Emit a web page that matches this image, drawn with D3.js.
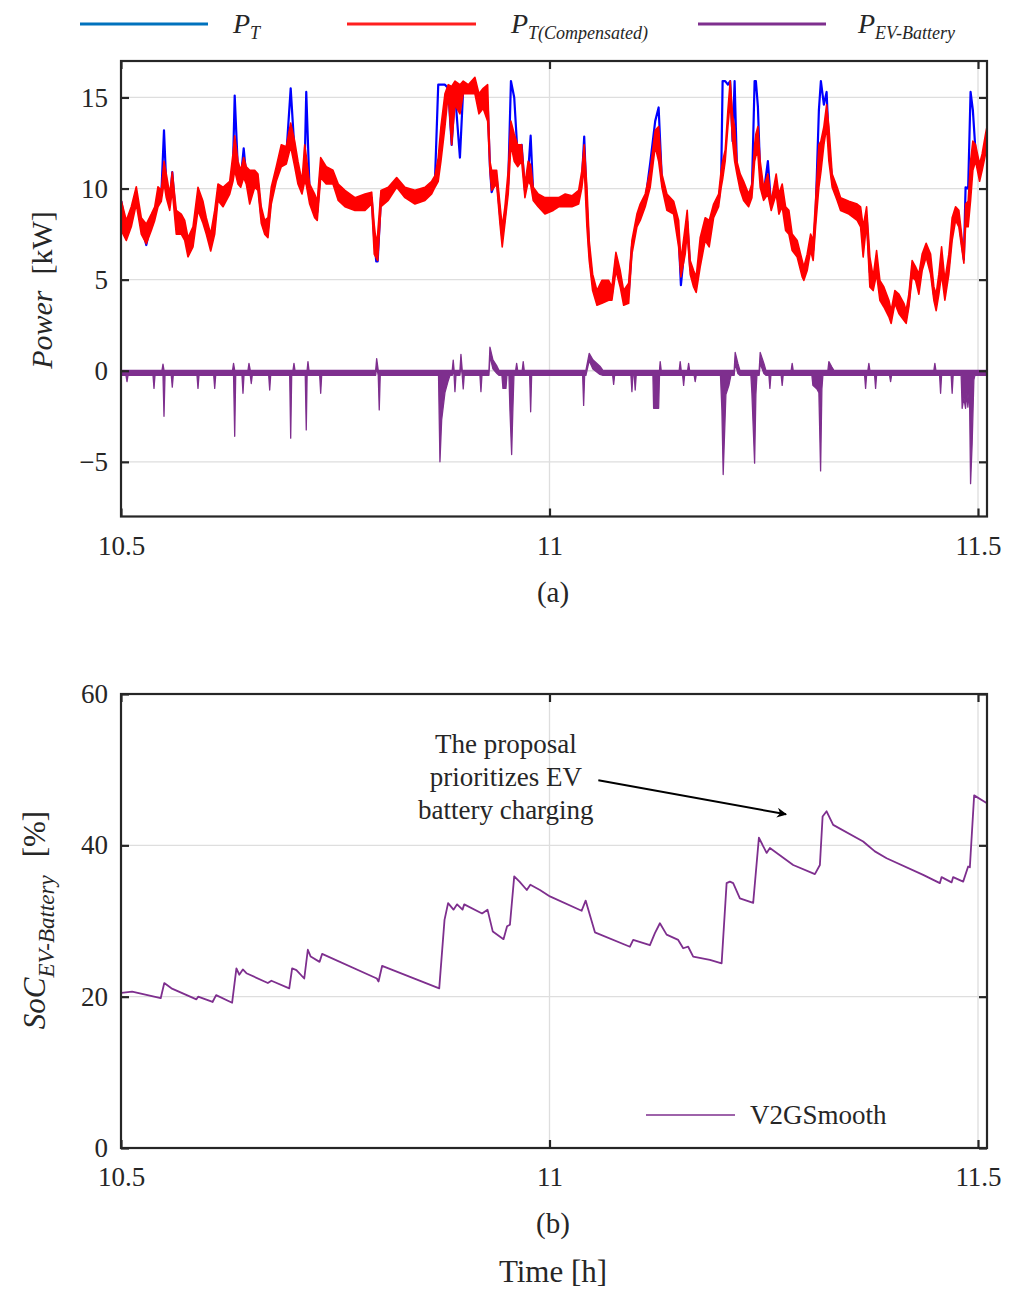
<!DOCTYPE html>
<html>
<head>
<meta charset="utf-8">
<script src="https://cdn.jsdelivr.net/npm/d3@7"></script>
<style>
  body { margin: 0; background: #fff; }
  text { font-family: "Liberation Serif", "Times New Roman", serif; fill: #262626; }
</style>
</head>
<body>
<svg id="fig" width="1016" height="1289"></svg>
<script>
// ---- axis ticks ----
const hourTicks = [10.5, 11, 11.5];
const powerTicks = [-5, 0, 5, 10, 15];
const socTicks = [0, 20, 40, 60];

// time is stored as minutes after 10:30 (10.5 h)
const startHour = 10.5;
const endMinute = 60.63;

// ---- (a) transformer power, kW ----
// sample instants (min) shared by the three arrays below
const sampleMinutes = [
  0.02, 0.37, 0.72, 1.07, 1.42, 1.77, 2.12, 2.36,
  2.59, 2.82, 3.01, 3.17, 3.41, 3.59, 3.87, 4.22,
  4.46, 4.69, 5.04, 5.39, 5.74, 5.97, 6.28, 6.56,
  6.79, 7.14, 7.61, 7.84, 7.96, 8.19, 8.38, 8.59,
  8.77, 9.01, 9.36, 9.59, 9.82, 10.06, 10.29, 10.52,
  10.87, 11.22, 11.57, 11.88, 12.16, 12.39, 12.67, 12.86,
  12.97, 13.21, 13.56, 13.74, 13.98, 14.37, 14.84, 15.21,
  15.68, 16.38, 17.08, 17.55, 17.73, 17.87, 17.97, 18.2,
  18.71, 19.3, 19.88, 20.58, 21.28, 21.75, 21.98, 22.21,
  22.4, 22.68, 22.91, 23.15, 23.38, 23.73, 23.96, 24.31,
  24.78, 25.06, 25.36, 25.67, 25.83, 25.95, 26.3, 26.53,
  26.69, 26.88, 27.11, 27.3, 27.53, 27.77, 28.05, 28.28,
  28.51, 28.68, 28.86, 29.21, 29.68, 30.26, 30.64, 31.1,
  31.57, 32.04, 32.27, 32.43, 32.62, 32.78, 33.02, 33.32,
  33.67, 34.14, 34.37, 34.65, 34.95, 35.19, 35.54, 35.77,
  36.12, 36.35, 36.7, 37.05, 37.4, 37.64, 37.87, 38.22,
  38.69, 39.04, 39.2, 39.5, 39.64, 39.85, 40.09, 40.27,
  40.55, 40.9, 41.18, 41.49, 41.84, 42.02, 42.12, 42.3,
  42.49, 42.65, 42.82, 42.96, 43.12, 43.35, 43.59, 43.94,
  44.17, 44.36, 44.45, 44.59, 44.75, 44.99, 45.29, 45.52,
  45.87, 46.06, 46.29, 46.53, 46.76, 46.99, 47.34, 47.69,
  47.81, 48.04, 48.28, 48.46, 48.63, 48.86, 49.0, 49.21,
  49.4, 49.56, 49.79, 50.14, 50.38, 50.96, 51.54, 51.78,
  51.96, 52.2, 52.43, 52.66, 52.9, 53.13, 53.41, 53.76,
  53.92, 54.18, 54.46, 54.81, 54.97, 55.16, 55.39, 55.63,
  55.86, 56.09, 56.37, 56.68, 56.91, 57.07, 57.26, 57.45,
  57.68, 57.96, 58.19, 58.43, 58.66, 58.85, 59.01, 59.13,
  59.31, 59.48, 59.64, 59.83, 60.11, 60.29, 60.53, 60.62
];

// compensated power: upper and lower edge of the fast ripple
const pCompHigh = [
  9.34, 8.25, 9.0, 10.1, 8.4, 8.05, 8.6, 9.0,
  10.1, 9.9, 11.5, 10.8, 9.7, 10.9, 8.8, 8.6,
  8.25, 7.3, 7.9, 10.07, 9.3, 8.4, 7.5, 8.8,
  10.25, 10.07, 10.4, 11.9, 12.9, 11.5, 11.0, 11.7,
  11.2, 11.0, 11.0, 10.8, 9.0, 8.25, 8.4, 10.07,
  11.2, 12.4, 12.3, 13.6, 12.6, 11.5, 10.4, 12.4,
  11.8, 10.25, 9.7, 9.3, 11.7, 11.2, 11.0, 10.25,
  9.9, 9.5, 9.7, 9.8, 8.0, 7.0, 7.5, 9.9,
  10.07, 10.6, 10.07, 9.9, 10.07, 10.4, 10.7, 11.7,
  13.4, 15.2, 15.7, 15.6, 15.9, 15.7, 15.9, 15.7,
  16.1, 15.2, 15.5, 15.7, 11.5, 11.0, 11.0, 9.15,
  7.9, 9.0, 11.0, 13.7, 13.0, 12.4, 12.4, 10.25,
  11.5, 11.3, 10.07, 9.7, 9.5, 9.5, 9.5, 9.7,
  9.6, 9.9, 11.0, 12.4, 10.07, 7.15, 5.3, 4.4,
  4.96, 4.96, 4.6, 6.5, 5.5, 4.4, 4.8, 7.15,
  8.6, 9.15, 9.7, 11.0, 13.2, 13.4, 10.8, 9.7,
  9.3, 8.25, 6.05, 7.9, 8.8, 6.05, 5.5, 5.15,
  7.3, 8.4, 8.25, 9.15, 9.7, 11.0, 11.5, 12.1,
  14.3, 15.9, 14.0, 13.4, 11.5, 10.8, 10.4, 9.7,
  10.25, 12.4, 13.0, 13.4, 11.5, 10.07, 10.8, 9.3,
  10.8, 9.7, 10.25, 9.0, 8.8, 7.5, 7.15, 6.05,
  5.7, 6.4, 7.5, 7.15, 9.35, 12.4, 12.6, 13.4,
  14.6, 13.4, 10.8, 10.07, 9.5, 9.3, 9.15, 9.0,
  7.9, 9.0, 6.24, 5.15, 6.6, 4.96, 4.6, 3.87,
  3.3, 4.4, 4.2, 3.7, 3.3, 4.2, 6.05, 5.7,
  5.3, 6.4, 7.0, 6.4, 4.6, 4.2, 5.3, 6.8,
  4.96, 6.4, 8.4, 9.0, 8.8, 7.5, 6.4, 9.15,
  9.3, 11.5, 12.6, 12.4, 11.35, 11.9, 13.0, 13.35
];
const pCompLow = [
  7.7, 7.15, 7.9, 9.15, 7.5, 6.97, 7.7, 8.25,
  9.0, 9.3, 10.3, 9.5, 8.8, 9.9, 7.5, 7.5,
  7.15, 6.25, 6.8, 8.8, 8.1, 7.5, 6.57, 7.5,
  9.35, 9.0, 9.7, 10.4, 11.0, 10.25, 10.07, 10.6,
  10.25, 9.15, 10.07, 9.9, 8.1, 7.5, 7.3, 9.15,
  10.4, 11.2, 11.35, 12.3, 11.2, 10.25, 9.7, 10.4,
  10.2, 9.15, 8.4, 8.25, 10.6, 10.25, 10.25, 9.35,
  9.0, 8.8, 8.8, 9.15, 6.4, 6.2, 6.05, 9.0,
  9.35, 10.07, 9.5, 9.15, 9.35, 9.7, 10.07, 10.4,
  11.5, 13.4, 15.2, 12.4, 14.6, 14.1, 15.2, 15.2,
  15.2, 14.1, 14.4, 13.7, 11.0, 9.9, 10.25, 8.1,
  6.8, 8.1, 9.7, 12.4, 11.5, 11.2, 11.5, 9.5,
  10.4, 10.2, 9.35, 9.0, 8.6, 8.8, 9.0, 9.0,
  9.0, 9.15, 10.07, 11.2, 7.9, 6.05, 4.4, 3.6,
  3.7, 3.87, 3.87, 5.5, 4.6, 3.6, 3.7, 6.4,
  7.9, 8.25, 9.0, 10.07, 12.3, 11.5, 10.07, 8.8,
  8.6, 6.8, 5.15, 6.4, 7.6, 5.3, 4.6, 4.3,
  5.7, 7.15, 6.8, 8.4, 9.0, 10.07, 10.5, 11.5,
  13.4, 14.8, 12.6, 11.5, 10.8, 9.9, 9.35, 9.0,
  9.5, 11.5, 11.8, 11.9, 10.07, 9.35, 9.7, 8.8,
  9.7, 8.6, 9.0, 7.7, 7.5, 6.6, 6.24, 5.15,
  4.96, 5.5, 6.6, 6.05, 7.9, 10.07, 10.9, 12.4,
  13.4, 11.5, 10.07, 9.35, 8.8, 8.6, 8.25, 7.9,
  6.24, 8.1, 4.6, 4.4, 5.3, 3.87, 3.5, 2.96,
  2.6, 3.7, 3.14, 2.77, 2.6, 3.5, 5.15, 4.96,
  4.2, 5.5, 6.24, 5.3, 3.87, 3.3, 4.2, 5.3,
  3.87, 5.3, 7.15, 8.25, 7.9, 6.8, 5.9, 7.9,
  7.9, 9.35, 11.0, 11.5, 10.4, 11.0, 11.9, 12.3
];
// uncompensated transformer power P_T
const pTotal = [
  9.3, 7.7, 8.5, 9.6, 8.0, 6.9, 8.2, 8.6,
  9.6, 9.6, 13.2, 10.2, 9.2, 10.9, 8.1, 8.0,
  7.7, 6.8, 7.3, 9.5, 8.7, 8.0, 7.0, 8.1,
  9.8, 9.5, 10.0, 11.2, 15.1, 10.9, 10.5, 12.2,
  10.7, 10.0, 10.5, 10.3, 8.5, 7.9, 7.8, 9.6,
  10.8, 11.8, 11.8, 15.5, 11.9, 10.9, 10.0, 11.3,
  15.3, 9.7, 9.0, 8.7, 11.1, 10.7, 10.6, 9.8,
  9.5, 9.1, 9.2, 9.5, 7.2, 6.0, 6.0, 9.5,
  9.7, 10.4, 9.8, 9.5, 9.7, 10.0, 10.4, 15.7,
  15.7, 15.7, 15.5, 12.4, 15.3, 11.7, 15.5, 15.5,
  15.6, 14.6, 15.0, 14.7, 11.2, 9.8, 10.6, 8.6,
  7.3, 8.5, 10.3, 15.9, 15.0, 11.8, 12.4, 9.9,
  10.9, 12.9, 9.7, 9.3, 9.0, 9.1, 9.2, 9.3,
  9.3, 9.5, 10.5, 12.85, 9.0, 6.6, 4.8, 4.0,
  4.3, 4.4, 4.2, 6.1, 5.0, 4.0, 4.2, 6.8,
  8.2, 8.7, 9.3, 11.4, 13.7, 14.45, 10.4, 9.2,
  8.9, 7.5, 4.7, 7.1, 8.2, 5.6, 5.0, 4.7,
  6.5, 7.7, 7.5, 8.8, 9.3, 10.5, 15.9, 15.9,
  15.7, 15.9, 12.6, 15.9, 11.2, 10.3, 9.9, 9.3,
  9.9, 15.9, 15.9, 14.5, 10.8, 9.7, 11.5, 9.0,
  10.2, 9.1, 9.6, 8.3, 8.1, 7.0, 6.7, 5.6,
  5.3, 5.9, 7.0, 6.6, 8.6, 14.3, 15.9, 14.6,
  15.3, 12.4, 10.4, 9.7, 9.1, 8.9, 8.7, 8.4,
  7.0, 8.5, 5.4, 4.8, 6.0, 4.4, 4.0, 3.4,
  2.9, 4.0, 3.7, 3.2, 2.9, 3.8, 5.6, 5.3,
  4.7, 5.9, 6.6, 5.8, 4.2, 3.7, 4.7, 6.0,
  4.4, 5.8, 7.7, 8.6, 8.3, 7.1, 6.1, 10.07,
  10.0, 15.3, 14.3, 12.0, 10.8, 11.4, 12.5, 12.8
];

// EV battery power: upper and lower edge of the trace, [minute, kW]
const pBatteryUpper = [
  [0, 0.02],
  [2.87, 0.02], [2.94, 0.36], [3.01, 0.02],
  [7.81, 0.02], [7.88, 0.4], [7.96, 0.02],
  [8.89, 0.02], [8.96, 0.4], [9.05, 0.02],
  [12.04, 0.02], [12.11, 0.4], [12.18, 0.02],
  [13.03, 0.02], [13.09, 0.5], [13.16, 0.02],
  [17.83, 0.02], [17.9, 0.67], [18.01, 0.02],
  [23.19, 0.02], [23.26, 0.58], [23.32, 0.02],
  [23.73, 0.02], [23.8, 0.9], [23.89, 0.02],
  [25.76, 0.02], [25.83, 1.3], [26.04, 0.6], [26.32, 0.25], [26.46, 0.02],
  [27.63, 0.02], [27.7, 0.4], [27.77, 0.02],
  [28.09, 0.02], [28.16, 0.5], [28.23, 0.02],
  [32.55, 0.02], [32.78, 0.95], [33.04, 0.6], [33.53, 0.25], [33.74, 0.02],
  [37.7, 0.02], [37.75, 0.5], [37.82, 0.02],
  [39.08, 0.02], [39.15, 0.5], [39.22, 0.02],
  [39.67, 0.02], [39.74, 0.4], [39.81, 0.02],
  [42.93, 0.02], [43.0, 1.0], [43.19, 0.4], [43.33, 0.02],
  [44.68, 0.02], [44.75, 1.0], [45.01, 0.4], [45.15, 0.02],
  [46.92, 0.02], [46.99, 0.4], [47.06, 0.02],
  [49.49, 0.02], [49.56, 0.5], [49.77, 0.2], [49.91, 0.02],
  [52.29, 0.02], [52.36, 0.4], [52.43, 0.02],
  [56.91, 0.02], [56.98, 0.4], [57.05, 0.02],
  [60.62, 0.02]
];
const pBatteryLower = [
  [0, -0.25], [0.35, -0.25], [0.42, -0.6], [0.49, -0.25],
  [2.24, -0.25], [2.31, -0.97], [2.38, -0.25],
  [2.94, -0.25], [3.01, -2.5], [3.08, -0.25],
  [3.52, -0.25], [3.59, -0.9], [3.66, -0.25],
  [5.32, -0.25], [5.39, -0.97], [5.46, -0.25],
  [6.49, -0.25], [6.56, -0.97], [6.63, -0.25],
  [7.88, -0.25], [7.96, -3.6], [8.03, -0.25],
  [8.47, -0.25], [8.54, -1.24], [8.61, -0.25],
  [9.05, -0.25], [9.12, -0.7], [9.19, -0.25],
  [10.34, -0.25], [10.41, -1.06], [10.48, -0.25],
  [11.81, -0.25], [11.88, -3.7], [11.95, -0.25],
  [12.9, -0.25], [12.97, -3.25], [13.03, -0.25],
  [13.91, -0.25], [13.98, -1.24], [14.05, -0.25],
  [17.83, -0.25], [17.9, 0.2], [18.01, -0.25], [18.08, -2.15], [18.15, -0.25],
  [22.23, -0.25], [22.33, -5.0], [22.45, -2.7], [22.68, -1.2], [22.89, -0.6], [23.03, -0.25],
  [23.19, -0.25], [23.26, 0.1], [23.32, -0.25], [23.38, -1.15], [23.45, -0.25],
  [23.73, -0.25], [23.8, 0.3], [23.89, -0.25], [23.96, -1.0], [24.03, -0.25],
  [25.13, -0.25], [25.2, -1.15], [25.27, -0.25],
  [25.76, -0.25], [25.83, 0.8], [26.04, 0.1], [26.32, -0.15], [26.46, -0.25],
  [26.67, -0.25], [26.74, -0.97], [26.95, -0.97], [27.02, -0.25],
  [27.16, -0.25], [27.23, -2.15], [27.35, -4.6], [27.44, -2.0], [27.51, -0.25],
  [28.61, -0.25], [28.68, -2.25], [28.75, -0.25],
  [32.32, -0.25], [32.39, -1.9], [32.46, -0.25],
  [32.55, -0.25], [32.78, 0.55], [33.04, 0.1], [33.53, -0.2], [33.74, -0.25],
  [34.42, -0.25], [34.49, -0.75], [34.56, -0.25],
  [35.7, -0.25], [35.77, -1.15], [35.84, -0.25],
  [35.93, -0.25], [36.0, -1.06], [36.07, -0.25],
  [37.24, -0.25], [37.29, -2.06], [37.64, -2.06], [37.7, -0.25],
  [39.32, -0.25], [39.39, -0.8], [39.46, -0.25],
  [40.13, -0.25], [40.2, -0.6], [40.27, -0.25],
  [41.97, -0.25], [42.07, -2.15], [42.16, -5.7], [42.35, -1.3], [42.56, -0.8], [42.7, -0.25],
  [42.93, -0.25], [43.0, 0.4], [43.19, -0.15], [43.33, -0.25],
  [44.1, -0.25], [44.17, -1.24], [44.36, -5.07], [44.45, -1.3], [44.52, -0.25],
  [44.68, -0.25], [44.75, 0.4], [45.01, -0.15], [45.15, -0.25],
  [45.36, -0.25], [45.43, -0.97], [45.5, -0.25],
  [46.22, -0.25], [46.29, -0.8], [46.36, -0.25],
  [48.37, -0.25], [48.44, -0.8], [48.72, -1.0], [48.86, -1.2], [48.98, -5.5], [49.07, -1.0], [49.14, -0.25],
  [52.06, -0.25], [52.13, -0.97], [52.2, -0.25],
  [52.76, -0.25], [52.83, -0.97], [52.9, -0.25],
  [53.81, -0.25], [53.88, -0.6], [53.95, -0.25],
  [57.31, -0.25], [57.38, -1.24], [57.45, -0.25],
  [58.12, -0.25], [58.19, -1.24], [58.26, -0.25],
  [58.82, -0.25], [58.89, -2.06], [59.01, -1.5], [59.13, -2.06], [59.22, -1.2], [59.29, -2.0],
  [59.4, -1.0], [59.48, -6.2], [59.59, -4.0], [59.71, -0.5], [59.78, -0.25],
  [60.62, -0.25]
];

// ---- (b) EV battery state of charge, [minute, %] ----
const socV2G = [
  [0.03, 20.5], [0.78, 20.66], [2.78, 19.8], [3.03, 21.8], [3.53, 21.1], [5.28, 19.65], [5.4, 20.0],
  [6.41, 19.3], [6.66, 20.2], [7.78, 19.2], [8.08, 23.75], [8.28, 22.9], [8.53, 23.6], [8.78, 23.1],
  [10.28, 21.8], [10.53, 22.1], [11.78, 21.1], [11.98, 23.75], [12.28, 23.5], [12.83, 22.4],
  [13.08, 26.2], [13.28, 25.3], [13.9, 24.6], [14.08, 25.65], [17.91, 22.4], [18.03, 22.0],
  [18.28, 24.06], [22.28, 21.1], [22.65, 30.15], [22.9, 32.36], [23.28, 31.5], [23.53, 32.2],
  [23.91, 31.5], [24.03, 32.2], [25.28, 31.0], [25.66, 31.5], [26.03, 28.6], [26.78, 27.6],
  [27.03, 29.3], [27.23, 29.5], [27.53, 35.9], [27.9, 35.2], [28.41, 34.1], [28.66, 34.8],
  [29.33, 34.1], [30.03, 33.25], [32.25, 31.35], [32.53, 32.7], [33.18, 28.5], [35.63, 26.6],
  [35.86, 27.5], [37.03, 26.8], [37.38, 28.4], [37.73, 29.7], [38.2, 28.2], [39.01, 27.5],
  [39.36, 26.4], [39.71, 26.6], [40.06, 25.3], [41.23, 24.85], [42.05, 24.4], [42.4, 35.0],
  [42.63, 35.2], [42.86, 35.0], [43.33, 33.0], [44.26, 32.4], [44.66, 41.0], [45.2, 39.0],
  [45.43, 39.65], [47.06, 37.4], [48.58, 36.2], [48.93, 37.4], [49.12, 43.8], [49.4, 44.5],
  [49.86, 42.7], [51.96, 40.5], [52.31, 39.95], [52.78, 39.2], [53.6, 38.3], [56.16, 36.1],
  [57.33, 35.0], [57.45, 35.8], [58.15, 35.1], [58.26, 35.8], [58.96, 35.2], [59.31, 37.2],
  [59.43, 37.1], [59.73, 46.6], [60.6, 45.6]
];

// annotation anchor points in data units [hour, %]
const noteLines = ["The proposal", "prioritizes EV", "battery charging"];
const noteAt = [10.949, 52.2];
const arrowFrom = [11.057, 48.6];
const arrowTo = [11.276, 44.1];

// ---- colours ----
const BLUE = "#0000ff", BLUE_KEY = "#0072bd", RED = "#ff0000", RED_KEY = "#ff1f1f", PURPLE = "#7e2f8e";
const INK = "#262626", GRID = "#dedede";

const hour = m => startHour + m / 60;
const svg = d3.select("#fig");

const L = 121, R = 987;
const x = d3.scaleLinear().domain([startHour, hour(endMinute)]).range([L, R]);
const yP = d3.scaleLinear().domain([-8, 17]).range([516.5, 61]);
const yS = d3.scaleLinear().domain([0, 60]).range([1148, 694]);

const defs = svg.append("defs");
function clip(id, y) {
  defs.append("clipPath").attr("id", id).append("rect")
    .attr("x", L).attr("y", y.range()[1]).attr("width", R - L).attr("height", y.range()[0] - y.range()[1]);
}
clip("clipP", yP);
clip("clipS", yS);

function grid(y, yVals) {
  const g = svg.append("g").attr("stroke", GRID).attr("stroke-width", 1.3);
  g.selectAll(".h").data(yVals).join("line")
    .attr("x1", L).attr("x2", R).attr("y1", d => y(d)).attr("y2", d => y(d));
  g.selectAll(".v").data(hourTicks).join("line")
    .attr("x1", d => x(d)).attr("x2", d => x(d)).attr("y1", y.range()[1]).attr("y2", y.range()[0]);
}

function frame(y, yVals) {
  const [b, t] = y.range();
  const style = g => {
    g.select(".domain").remove();
    g.selectAll(".tick line").attr("stroke", INK).attr("stroke-width", 2.2);
    g.attr("font-family", "Liberation Serif, Times New Roman, serif").attr("font-size", 27);
    g.selectAll(".tick text").attr("fill", INK);
  };
  svg.append("g").attr("transform", `translate(0,${b})`)
    .call(d3.axisBottom(x).tickValues(hourTicks).tickSize(-8).tickPadding(19).tickFormat(d3.format(""))).call(style);
  svg.append("g").attr("transform", `translate(0,${t})`)
    .call(d3.axisTop(x).tickValues(hourTicks).tickSize(-8).tickFormat("")).call(style);
  svg.append("g").attr("transform", `translate(${L},0)`)
    .call(d3.axisLeft(y).tickValues(yVals).tickSize(-8).tickPadding(13)).call(style);
  svg.append("g").attr("transform", `translate(${R},0)`)
    .call(d3.axisRight(y).tickValues(yVals).tickSize(-8).tickFormat("")).call(style);
  svg.append("rect").attr("x", L).attr("y", t).attr("width", R - L).attr("height", b - t)
    .attr("fill", "none").attr("stroke", INK).attr("stroke-width", 2.2);
}

// ================= (a) power =================
grid(yP, powerTicks);
const gP = svg.append("g").attr("clip-path", "url(#clipP)");

const totalLine = d3.line().x(d => x(hour(d[0]))).y(d => yP(d[1]));
gP.append("path").datum(d3.zip(sampleMinutes, pTotal))
  .attr("d", totalLine).attr("fill", "none").attr("stroke", BLUE)
  .attr("stroke-width", 2.2).attr("stroke-linejoin", "round");

const compBand = d3.area().x(d => x(hour(d[0]))).y0(d => yP(d[2])).y1(d => yP(d[1]));
gP.append("path").datum(d3.zip(sampleMinutes, pCompHigh, pCompLow))
  .attr("d", compBand).attr("fill", RED).attr("stroke", RED)
  .attr("stroke-width", 1.6).attr("stroke-linejoin", "round");

const batteryOutline = pBatteryUpper.concat(pBatteryLower.slice().reverse());
gP.append("path").datum(batteryOutline)
  .attr("d", d => totalLine(d) + "Z").attr("fill", PURPLE).attr("stroke", PURPLE)
  .attr("stroke-width", 1.3).attr("stroke-linejoin", "round");

frame(yP, powerTicks);

// y label (a)
const labA = svg.append("text").attr("transform", "translate(52,290) rotate(-90)")
  .attr("text-anchor", "middle").attr("font-size", 30);
labA.append("tspan").attr("font-style", "italic").text("Power");
labA.append("tspan").attr("dx", 16).text("[kW]");

// caption (a)
svg.append("text").attr("x", 553).attr("y", 602).attr("text-anchor", "middle").attr("font-size", 29).text("(a)");

// top legend
const keys = [
  { x0: 80, x1: 208, tx: 233, color: BLUE_KEY, sub: "T" },
  { x0: 347, x1: 476, tx: 511, color: RED_KEY, sub: "T(Compensated)" },
  { x0: 698, x1: 826, tx: 858, color: PURPLE, sub: "EV-Battery" }
];
const lg = svg.append("g");
keys.forEach(k => {
  lg.append("line").attr("x1", k.x0).attr("x2", k.x1).attr("y1", 24).attr("y2", 24)
    .attr("stroke", k.color).attr("stroke-width", 3.2);
  const t = lg.append("text").attr("x", k.tx).attr("y", 33).attr("font-style", "italic").attr("font-size", 28);
  t.append("tspan").text("P");
  t.append("tspan").attr("font-size", 18).attr("dy", 6).text(k.sub);
});

// ================= (b) state of charge =================
grid(yS, socTicks);
const gS = svg.append("g").attr("clip-path", "url(#clipS)");
const socLine = d3.line().x(d => x(hour(d[0]))).y(d => yS(d[1]));
gS.append("path").datum(socV2G).attr("d", socLine)
  .attr("fill", "none").attr("stroke", PURPLE).attr("stroke-width", 1.8).attr("stroke-linejoin", "round");

frame(yS, socTicks);

// annotation
const note = svg.append("text").attr("text-anchor", "middle").attr("font-size", 27);
noteLines.forEach((s, i) => {
  note.append("tspan").attr("x", x(noteAt[0])).attr("y", yS(noteAt[1]) + i * 33).text(s);
});
defs.append("marker").attr("id", "head").attr("viewBox", "0 0 10 10")
  .attr("refX", 9).attr("refY", 5).attr("markerWidth", 10).attr("markerHeight", 10)
  .attr("markerUnits", "userSpaceOnUse").attr("orient", "auto")
  .append("path").attr("d", "M0,0 L10,5 L0,10 L3,5 Z").attr("fill", "#000");
svg.append("line")
  .attr("x1", x(arrowFrom[0])).attr("y1", yS(arrowFrom[1]))
  .attr("x2", x(arrowTo[0])).attr("y2", yS(arrowTo[1]))
  .attr("stroke", "#000").attr("stroke-width", 2).attr("marker-end", "url(#head)");

// legend (b)
svg.append("line").attr("x1", 646).attr("x2", 735).attr("y1", 1115).attr("y2", 1115)
  .attr("stroke", PURPLE).attr("stroke-width", 1.6);
svg.append("text").attr("x", 750).attr("y", 1124).attr("font-size", 27).text("V2GSmooth");

// y label (b)
const labB = svg.append("text").attr("transform", "translate(45,920) rotate(-90)")
  .attr("text-anchor", "middle").attr("font-size", 31);
labB.append("tspan").attr("font-style", "italic").text("SoC");
labB.append("tspan").attr("font-style", "italic").attr("font-size", 23).attr("dy", 9).text("EV-Battery");
labB.append("tspan").attr("dy", -9).attr("dx", 18).text("[%]");

// captions (b)
svg.append("text").attr("x", 553).attr("y", 1233).attr("text-anchor", "middle").attr("font-size", 29).text("(b)");
svg.append("text").attr("x", 553).attr("y", 1282).attr("text-anchor", "middle").attr("font-size", 31).text("Time [h]");
</script>
</body>
</html>
